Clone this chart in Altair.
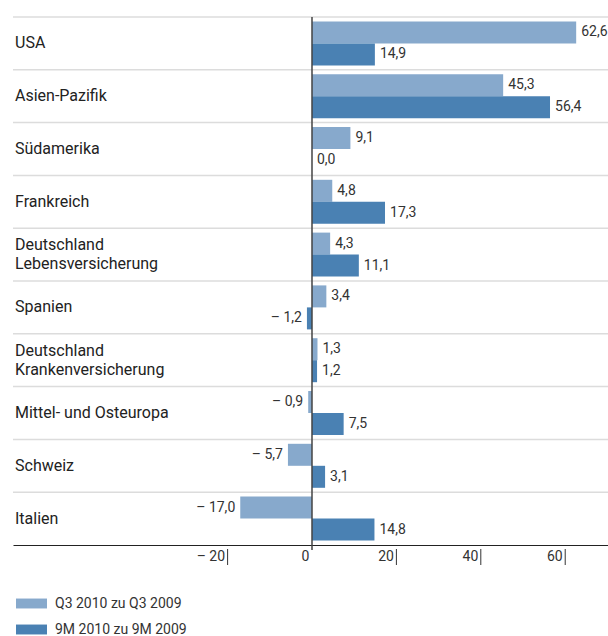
import altair as alt
import pandas as pd

regions = ["USA", "Asien-Pazifik", "Südamerika", "Frankreich",
           "Deutschland Lebensversicherung", "Spanien",
           "Deutschland Krankenversicherung", "Mittel- und Osteuropa",
           "Schweiz", "Italien"]
display = ["USA", "Asien-Pazifik", "Südamerika", "Frankreich",
           "Deutschland\nLebensversicherung", "Spanien",
           "Deutschland\nKrankenversicherung", "Mittel- und Osteuropa",
           "Schweiz", "Italien"]
series = ["Q3 2010 zu Q3 2009", "9M 2010 zu 9M 2009"]
q3 = [62.6, 45.3, 9.1, 4.8, 4.3, 3.4, 1.3, -0.9, -5.7, -17.0]
m9 = [14.9, 56.4, 0.0, 17.3, 11.1, -1.2, 1.2, 7.5, 3.1, 14.8]
tick_values = [-20, 0, 20, 40, 60]
tick_marks = [-20, 20, 40, 60]
colors = ["#87a9cc", "#4a81b3"]

rows = []
for r, a, b in zip(regions, q3, m9):
    rows.append({"key": r + "|0", "series": series[0], "value": a})
    rows.append({"key": r + "|1", "series": series[1], "value": b})
df = pd.DataFrame(rows)
keys = [r + "|" + s for r in regions for s in ("0", "1")]
cat_df = pd.DataFrame({"key": [r + "|0" for r in regions], "display": display,
                       "lines": [d.count("\n") + 1 for d in display]})
ticks_df = pd.DataFrame({"t": tick_marks})
zero_df = pd.DataFrame({"z": [0]})

W, H = 595, 528
FONT = "Roboto"
HALF = H / 20 / 2
SHIFT = HALF - 11
LH = 19

xscale = alt.Scale(domain=[-70.85, 70.14], nice=False, zero=False)
yscale = alt.Scale(domain=keys, paddingInner=0, paddingOuter=0)

lab_expr = "(datum.value < 0 ? '– ' : '') + replace(format(abs(datum.value), '.1f'), '.', ',')"

color_enc = alt.Color("series:N", scale=alt.Scale(domain=series, range=colors),
                      legend=alt.Legend(title=None, orient="none", legendX=3, legendY=571,
                                        symbolType="M-1,-0.32H1V0.32H-1Z", symbolSize=961,
                                        symbolStrokeWidth=0, labelFont=FONT, labelFontSize=14,
                                        labelColor="#333", labelOffset=8, rowPadding=3))

x_axis = alt.Axis(values=tick_values, title=None, grid=False, ticks=False,
                  domainColor="#222", domainWidth=1.2,
                  labelAlign="right", labelOffset=-3, labelPadding=4,
                  labelFontSize=14, labelFont=FONT, labelColor="#333",
                  labelExpr="datum.value < 0 ? '– ' + abs(datum.value) : datum.value")

layers = []
for i, sgn in enumerate((1, -1)):
    sub = alt.Chart(df).transform_filter(alt.datum.series == series[i])
    layers.append(sub.mark_bar(size=22, yOffset=sgn * SHIFT).encode(
        x=alt.X("value:Q", scale=xscale, axis=x_axis),
        y=alt.Y("key:N", scale=yscale, axis=None),
        color=color_enc,
    ))
    calc = sub.transform_calculate(label=lab_expr)
    layers.append(calc.transform_filter("datum.value >= 0").mark_text(
        align="left", baseline="middle", dx=5, dy=sgn * SHIFT, font=FONT, fontSize=14, color="#333"
    ).encode(
        x=alt.X("value:Q", scale=xscale, axis=x_axis),
        y=alt.Y("key:N", scale=yscale, axis=None),
        text="label:N",
    ))
    layers.append(calc.transform_filter("datum.value < 0").mark_text(
        align="right", baseline="middle", dx=-5, dy=sgn * SHIFT, font=FONT, fontSize=14, color="#333"
    ).encode(
        x=alt.X("value:Q", scale=xscale, axis=x_axis),
        y=alt.Y("key:N", scale=yscale, axis=None),
        text="label:N",
    ))

for n in (1, 2):
    layers.append(alt.Chart(cat_df).transform_filter(alt.datum.lines == n).mark_text(
        align="left", baseline="middle", dy=HALF - (n - 1) * LH / 2, font=FONT, fontSize=16,
        color="#222", lineBreak="\n", lineHeight=LH
    ).encode(
        x=alt.value(2),
        y=alt.Y("key:N", scale=yscale, axis=None),
        text="display:N",
    ))

row_rules = alt.Chart(cat_df).mark_rule(color="#dcdcdc", strokeWidth=1.5, yOffset=-HALF).encode(
    y=alt.Y("key:N", scale=yscale, axis=None),
    x=alt.value(0),
    x2=alt.value(W),
)

zero_line = alt.Chart(zero_df).mark_rule(color="#444", strokeWidth=1.5).encode(
    x=alt.X("z:Q", scale=xscale, axis=x_axis),
    y=alt.value(0),
    y2=alt.value(H + 5),
)

tick_rules = alt.Chart(ticks_df).mark_rule(color="#333", strokeWidth=1).encode(
    x=alt.X("t:Q", scale=xscale, axis=x_axis),
    y=alt.value(H + 4),
    y2=alt.value(H + 20),
)

chart = alt.layer(row_rules, *layers, zero_line, tick_rules).properties(
    width=W, height=H,
    padding={"left": 13, "top": 17, "right": 0, "bottom": 91},
    autosize=alt.AutoSizeParams(type="none"),
).configure_view(stroke=None)

chart.save("out.html", embed_options={"renderer": "svg", "actions": False})
